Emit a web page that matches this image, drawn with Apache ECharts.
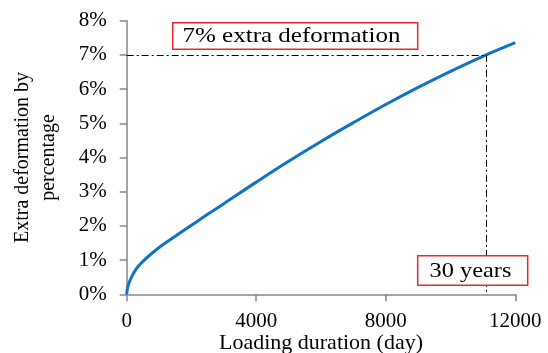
<!DOCTYPE html>
<html>
<head>
<meta charset="utf-8">
<script src="https://cdn.jsdelivr.net/npm/echarts@6/dist/echarts.min.js"></script>
<style>html,body{margin:0;padding:0;background:#fff}#c{width:548px;height:353px}</style>
</head>
<body>
<div id="c"></div>
<script>
// Data
const days = [0, 30, 100, 300, 600, 1000, 1500, 2000, 2500, 3000, 4000, 5000, 6000, 7000, 8000, 9000, 10000, 11000, 12000];
const extraPct = [0, 0.2, 0.4, 0.75, 1.05, 1.37, 1.7, 2.02, 2.34, 2.65, 3.28, 3.89, 4.47, 5.02, 5.55, 6.05, 6.52, 6.96, 7.36];
const yTicks = [0, 1, 2, 3, 4, 5, 6, 7, 8];
const xTicks = [0, 4000, 8000, 12000];
const targetPct = 7;
const targetDay = 11100;
const boxText1 = '7% extra deformation';
const boxText2 = '30 years';

const font = 'Liberation Serif';
const chart = echarts.init(document.getElementById('c'));
const series = days.map((d, i) => [d, extraPct[i]]);

chart.setOption({
  animation: false,
  grid: {left: 126.7, right: 32.7, top: 20.7, bottom: 58.7, containLabel: false, outerBoundsMode: 'none'},
  xAxis: {
    type: 'value', min: xTicks[0], max: xTicks[xTicks.length - 1], interval: 4000,
    name: 'Loading duration (day)', nameLocation: 'middle', nameGap: 38, nameMoveOverlap: false,
    nameTextStyle: {fontFamily: font, fontSize: 22, color: '#000'},
    axisLine: {show: true, lineStyle: {color: '#868686', width: 1.5}},
    axisTick: {show: true, length: 7, lineStyle: {color: '#868686', width: 1.5}},
    axisLabel: {fontFamily: font, fontSize: 21, color: '#000', margin: 17, formatter: v => String(v)},
    splitLine: {show: false}
  },
  yAxis: {
    type: 'value', min: yTicks[0], max: yTicks[yTicks.length - 1], interval: 1,
    name: 'Extra deformation by\npercentage', nameLocation: 'middle', nameGap: 65, nameMoveOverlap: false,
    nameTextStyle: {fontFamily: font, fontSize: 20, color: '#000', lineHeight: 26},
    axisLine: {show: true, lineStyle: {color: '#868686', width: 1.5}},
    axisTick: {show: true, length: 7, lineStyle: {color: '#868686', width: 1.5}},
    axisLabel: {fontFamily: font, fontSize: 21, color: '#000', margin: 20, formatter: '{value}%'},
    splitLine: {show: false}
  },
  series: [{
    type: 'line', data: series, smooth: 0.4, showSymbol: false,
    lineStyle: {color: '#0F72C2', width: 3},
    markLine: {
      silent: true, symbol: 'none', label: {show: false},
      lineStyle: {type: [7, 3, 2, 3], color: '#000', width: 1},
      data: [
        [{coord: [0, targetPct]}, {coord: [targetDay, targetPct]}],
        [{coord: [targetDay, targetPct]}, {coord: [targetDay, 0]}]
      ]
    }
  }],
  graphic: [
    {type: 'rect', z: 100, shape: {x: 172.7, y: 22.7, width: 245, height: 26.6},
     style: {fill: '#fff', stroke: '#E8282B', lineWidth: 1.5}},
    {type: 'text', z: 101, x: 291.5, y: 36.5, scaleX: 1.19,
     style: {text: boxText1, fontFamily: font, fontSize: 21, fill: '#000', textAlign: 'center', textVerticalAlign: 'middle'}},
    {type: 'rect', z: 100, shape: {x: 417.7, y: 255.7, width: 110, height: 29.6},
     style: {fill: '#fff', stroke: '#E8282B', lineWidth: 1.5}},
    {type: 'text', z: 101, x: 470.5, y: 271, scaleX: 1.16,
     style: {text: boxText2, fontFamily: font, fontSize: 21, fill: '#000', textAlign: 'center', textVerticalAlign: 'middle'}}
  ]
});
</script>
</body>
</html>
